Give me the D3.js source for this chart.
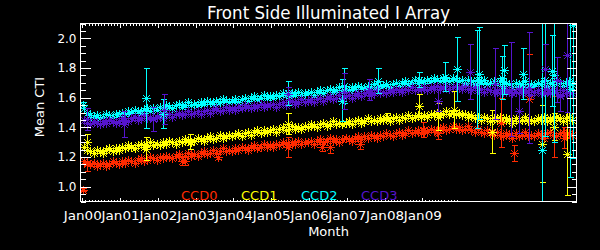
<!DOCTYPE html>
<html><head><meta charset="utf-8">
<script src="https://cdn.jsdelivr.net/npm/d3@7"></script>
<style>body{margin:0;background:#000;overflow:hidden}</style>
</head><body><svg id="c" width="600" height="250"></svg>
<script>
// ---------------- DATA ----------------
const seriesNames = ["CCD0", "CCD1", "CCD2", "CCD3"];
const firstSampleYear = 2000.05;   // monthly samples start here
const xTickLabels = ["Jan00","Jan01","Jan02","Jan03","Jan04","Jan05","Jan06","Jan07","Jan08","Jan09"];
const xTickYears = [2000,2001,2002,2003,2004,2005,2006,2007,2008,2009];
const yTickValues = [1.0, 1.2, 1.4, 1.6, 1.8, 2.0];

const ccd0 = [
 1.17,1.16,1.15,1.16,1.14,1.15,1.16,1.14,1.15,1.17,1.16,
 1.15,1.17,1.16,1.18,1.17,1.16,1.18,1.19,1.17,1.18,1.20,1.19,
 1.18,1.20,1.19,1.21,1.20,1.19,1.21,1.22,1.20,1.21,1.23,1.21,
 1.22,1.21,1.23,1.24,1.22,1.23,1.25,1.23,1.24,1.26,1.24,1.25,
 1.24,1.26,1.25,1.27,1.26,1.25,1.27,1.28,1.26,1.27,1.29,1.27,
 1.28,1.27,1.29,1.28,1.30,1.29,1.28,1.30,1.29,1.31,1.29,1.30,
 1.30,1.31,1.29,1.31,1.32,1.30,1.31,1.33,1.31,1.32,1.30,1.32,
 1.33,1.32,1.31,1.33,1.34,1.32,1.34,1.33,1.35,1.34,1.33,1.35,
 1.34,1.36,1.35,1.34,1.36,1.37,1.35,1.36,1.38,1.36,1.37,1.38,
 1.36,1.38,1.37,1.39,1.38,1.37,1.39,1.40,1.38,1.39,1.41,1.39,
 1.40,1.38,1.39,1.41,1.38,1.37,1.39,1.37,1.36,1.38,1.36,1.35,
 1.37,1.35,1.34,1.36,1.35,1.33,1.36,1.34,1.35,1.37,1.34,1.35,
 1.34,1.36,1.35,1.33,1.36,1.37,1.35,1.34,1.36,1.37,1.35,1.36,1.35
];
const ccd1 = [
 1.27,1.25,1.24,1.23,1.25,1.24,1.23,1.25,1.26,1.24,1.26,
 1.25,1.27,1.26,1.28,1.27,1.26,1.28,1.29,1.27,1.28,1.30,1.28,
 1.29,1.28,1.30,1.29,1.31,1.30,1.29,1.31,1.30,1.32,1.31,1.30,
 1.31,1.33,1.32,1.31,1.33,1.34,1.32,1.33,1.35,1.33,1.34,1.35,
 1.34,1.35,1.36,1.34,1.36,1.37,1.35,1.37,1.38,1.36,1.38,1.37,
 1.38,1.39,1.37,1.39,1.40,1.38,1.39,1.41,1.39,1.40,1.39,1.41,
 1.40,1.42,1.41,1.40,1.42,1.43,1.41,1.42,1.44,1.42,1.43,1.42,
 1.43,1.44,1.42,1.44,1.45,1.43,1.44,1.46,1.44,1.45,1.44,1.46,
 1.45,1.46,1.44,1.46,1.47,1.45,1.47,1.46,1.48,1.46,1.47,1.48,
 1.47,1.48,1.47,1.49,1.48,1.50,1.48,1.49,1.51,1.49,1.50,1.49,
 1.50,1.48,1.49,1.47,1.48,1.46,1.47,1.45,1.47,1.46,1.44,1.46,
 1.45,1.47,1.44,1.46,1.45,1.43,1.46,1.44,1.45,1.47,1.44,1.45,
 1.44,1.46,1.45,1.47,1.44,1.46,1.45,1.47,1.46,1.44,1.46,1.47,1.45
];
const ccd2 = [
 1.53,1.50,1.48,1.47,1.48,1.46,1.47,1.49,1.48,1.47,1.49,
 1.49,1.50,1.49,1.51,1.50,1.52,1.51,1.50,1.52,1.53,1.51,1.53,
 1.52,1.54,1.53,1.55,1.54,1.53,1.55,1.56,1.54,1.55,1.57,1.55,
 1.56,1.55,1.57,1.56,1.58,1.57,1.56,1.58,1.57,1.59,1.58,1.57,
 1.58,1.59,1.57,1.59,1.60,1.58,1.60,1.61,1.59,1.60,1.62,1.60,
 1.61,1.60,1.62,1.61,1.63,1.62,1.61,1.63,1.62,1.64,1.62,1.63,
 1.63,1.64,1.62,1.64,1.65,1.63,1.65,1.66,1.64,1.65,1.67,1.65,
 1.66,1.65,1.67,1.66,1.68,1.67,1.66,1.68,1.67,1.69,1.67,1.68,
 1.68,1.69,1.67,1.69,1.70,1.68,1.70,1.71,1.69,1.70,1.72,1.70,
 1.71,1.70,1.72,1.71,1.73,1.72,1.71,1.73,1.72,1.71,1.73,1.72,
 1.71,1.72,1.70,1.72,1.71,1.69,1.71,1.70,1.72,1.69,1.70,1.71,
 1.69,1.71,1.68,1.70,1.69,1.67,1.70,1.68,1.69,1.71,1.67,1.69,
 1.68,1.70,1.69,1.71,1.68,1.70,1.69,1.71,1.70,1.68,1.70,1.71,1.69
];
const ccd3 = [
 1.45,1.43,1.42,1.44,1.43,1.42,1.44,1.43,1.45,1.44,1.43,
 1.44,1.46,1.45,1.44,1.46,1.47,1.45,1.46,1.48,1.46,1.47,1.46,
 1.47,1.48,1.46,1.48,1.49,1.47,1.49,1.50,1.48,1.49,1.51,1.49,
 1.50,1.51,1.49,1.51,1.52,1.50,1.52,1.53,1.51,1.52,1.54,1.52,
 1.53,1.52,1.54,1.53,1.55,1.54,1.53,1.55,1.54,1.56,1.54,1.55,
 1.55,1.56,1.54,1.56,1.57,1.55,1.57,1.58,1.56,1.57,1.59,1.57,
 1.58,1.59,1.57,1.59,1.60,1.58,1.60,1.61,1.59,1.60,1.62,1.60,
 1.61,1.62,1.60,1.62,1.63,1.61,1.63,1.64,1.62,1.63,1.65,1.63,
 1.64,1.63,1.65,1.64,1.66,1.65,1.64,1.66,1.65,1.67,1.65,1.66,
 1.66,1.67,1.65,1.67,1.66,1.68,1.66,1.67,1.68,1.66,1.67,1.68,
 1.67,1.66,1.68,1.66,1.65,1.67,1.65,1.66,1.64,1.66,1.65,1.64,
 1.65,1.63,1.66,1.64,1.65,1.63,1.64,1.66,1.63,1.65,1.64,1.62,
 1.64,1.65,1.63,1.64,1.66,1.63,1.65,1.64,1.62,1.65,1.63,1.64,1.63
];

// averaged points with error bars: [year, mean, error]
const ccd0Err = [
 [2000.02,0.98,0.01],[2000.12,1.15,0.05],[2002.63,1.17,0.03],[2002.72,1.17,0.025],
 [2003.60,1.20,0.015],[2005.44,1.265,0.065],[2006.34,1.27,0.03],[2006.56,1.27,0.045],
 [2007.35,1.29,0.04],[2009.03,1.38,0.05],[2009.42,1.36,0.04],[2011.07,1.43,0.165],
 [2011.43,1.225,0.055],[2011.82,1.59,0.30],[2012.49,1.405,0.205],[2012.74,1.33,0.07]
];
const ccd1Err = [
 [2000.12,1.30,0.055],[2001.69,1.254,0.08],[2002.85,1.30,0.05],[2005.44,1.42,0.07],
 [2008.06,1.47,0.025],[2008.92,1.545,0.075],[2009.42,1.47,0.09],[2009.85,1.515,0.125],
 [2010.84,1.37,0.145],[2012.16,1.29,0.26],[2012.49,1.40,0.09],[2012.82,1.22,0.28]
];
const ccd2Err = [
 [2000.02,1.55,0.02],[2001.69,1.595,0.205],[2002.13,1.49,0.10],[2005.44,1.63,0.08],
 [2006.87,1.58,0.14],[2006.93,1.68,0.12],[2007.83,1.71,0.085],[2008.92,1.72,0.05],
 [2009.60,1.74,0.10],[2009.93,1.79,0.215],[2010.44,1.72,0.33],[2010.51,1.76,0.31],
 [2011.10,1.73,0.145],[2011.16,1.785,0.165],[2011.67,1.76,0.17],[2012.16,1.25,0.9],
 [2012.25,1.72,0.38],[2012.42,1.78,0.24],[2012.49,1.75,0.45],[2012.91,1.66,0.6],
 [2012.99,2.09,0.9]
];
const ccd3Err = [
 [2000.12,1.455,0.075],[2001.10,1.42,0.09],[2001.86,1.455,0.08],[2002.17,1.52,0.10],
 [2005.44,1.625,0.045],[2006.93,1.64,0.12],[2007.59,1.65,0.07],[2009.42,1.58,0.075],
 [2010.26,1.775,0.185],[2010.92,1.69,0.24],[2011.34,1.655,0.315],[2011.57,1.51,0.15],
 [2011.82,1.665,0.375],[2012.25,1.79,0.17],[2012.56,1.72,0.15],[2012.65,1.61,0.10],
 [2012.82,1.89,0.39]
];

// ---------------- STYLE ----------------
const colors = ["#ff2a00", "#ffff00", "#00ffff", "#5514cd"];
const FONT = "'DejaVu Sans', sans-serif";

const svg = d3.select("#c");
svg.append("rect").attr("width", 600).attr("height", 250).attr("fill", "#000");

const x = d3.scaleLinear().domain([1999.952, 2013.08]).range([80.5, 576.5]);
const y = d3.scaleLinear().domain([0.9, 2.1]).range([201.5, 23.5]);

svg.append("defs").append("clipPath").attr("id", "clip")
  .append("rect").attr("x", 80.5).attr("y", 23.5).attr("width", 496).attr("height", 178);

const plot = svg.append("g").attr("clip-path", "url(#clip)").attr("shape-rendering", "crispEdges");

function starPath(r) {
  const d = r * 0.72;
  return `M${-r},0H${r}M0,${-r}V${r}M${-d},${-d}L${d},${d}M${-d},${d}L${d},${-d}`;
}

const dense = [ccd0, ccd1, ccd2, ccd3];
const errs = [ccd0Err, ccd1Err, ccd2Err, ccd3Err];

dense.forEach((vals, si) => {
  plot.append("g").selectAll("path").data(vals).join("path")
    .attr("d", starPath(4.2))
    .attr("transform", (v, i) => `translate(${Math.round(x(firstSampleYear + i / 12)) + 0.5},${Math.round(y(v)) + 0.5})`)
    .attr("stroke", colors[si]).attr("stroke-width", 1.3).attr("fill", "none");
});

errs.forEach((pts, si) => {
  const g = plot.append("g").attr("stroke", colors[si]).attr("stroke-width", 1).attr("fill", "none");
  pts.forEach(p => {
    const px = Math.round(x(p[0])) + 0.5;
    const y1 = y(p[1] - p[2]), y2 = y(p[1] + p[2]);
    g.append("line").attr("x1", px).attr("x2", px).attr("y1", y1).attr("y2", y2);
    g.append("line").attr("x1", px - 3).attr("x2", px + 3).attr("y1", y1).attr("y2", y1);
    g.append("line").attr("x1", px - 3).attr("x2", px + 3).attr("y1", y2).attr("y2", y2);
    g.append("path").attr("d", starPath(4.5))
      .attr("transform", `translate(${px},${Math.round(y(p[1])) + 0.5})`);
  });
});

// ---------------- AXES ----------------
const minorX = d3.range(0, 120).map(m => 2000 + m / 12);
const minorY = d3.range(18, 43).map(k => k * 0.05);

function styleAxis(g) {
  g.select(".domain").remove();
  g.selectAll("line").attr("stroke", "#fff");
  g.attr("shape-rendering", "crispEdges");
  g.selectAll("text").attr("fill", "#fff").attr("font-family", FONT).attr("font-size", 12);
}

// bottom
svg.append("g").attr("transform", "translate(0,201.5)")
  .call(d3.axisBottom(x).tickValues(minorX).tickSize(-2).tickFormat("")).call(styleAxis);
svg.append("g").attr("transform", "translate(0,201.5)")
  .call(d3.axisBottom(x).tickValues(xTickYears).tickSize(-4).tickPadding(10)
    .tickFormat((d, i) => xTickLabels[i])).call(styleAxis)
  .call(g => g.selectAll("text").attr("font-size", 12.5).attr("textLength", 38).attr("lengthAdjust", "spacingAndGlyphs"));
// top
svg.append("g").attr("transform", "translate(0,23.5)")
  .call(d3.axisTop(x).tickValues(minorX).tickSize(-2).tickFormat("")).call(styleAxis);
svg.append("g").attr("transform", "translate(0,23.5)")
  .call(d3.axisTop(x).tickValues(xTickYears).tickSize(-4).tickFormat("")).call(styleAxis);
// left
svg.append("g").attr("transform", "translate(80.5,0)")
  .call(d3.axisLeft(y).tickValues(minorY).tickSize(-5).tickFormat("")).call(styleAxis);
svg.append("g").attr("transform", "translate(80.5,0)")
  .call(d3.axisLeft(y).tickValues(yTickValues).tickSize(-10).tickPadding(4)
    .tickFormat(d3.format(".1f"))).call(styleAxis);
// right
svg.append("g").attr("transform", "translate(576.5,0)")
  .call(d3.axisRight(y).tickValues(minorY).tickSize(-5).tickFormat("")).call(styleAxis);
svg.append("g").attr("transform", "translate(576.5,0)")
  .call(d3.axisRight(y).tickValues(yTickValues).tickSize(-10).tickFormat("")).call(styleAxis);

// frame
svg.append("rect").attr("x", 80.5).attr("y", 23.5).attr("width", 496).attr("height", 178)
  .attr("fill", "none").attr("stroke", "#fff").attr("shape-rendering", "crispEdges");

// ---------------- TEXT ----------------
svg.append("text").attr("x", 328.5).attr("y", 19).attr("text-anchor", "middle")
  .attr("fill", "#fff").attr("font-family", FONT).attr("font-size", 17)
  .attr("textLength", 243).attr("lengthAdjust", "spacingAndGlyphs")
  .text("Front Side Illuminated I Array");

svg.append("text").attr("x", 328.5).attr("y", 236).attr("text-anchor", "middle")
  .attr("fill", "#fff").attr("font-family", FONT).attr("font-size", 13).text("Month");

svg.append("text").attr("transform", "translate(44,107) rotate(-90)").attr("text-anchor", "middle")
  .attr("fill", "#fff").attr("font-family", FONT).attr("font-size", 13).text("Mean CTI");

seriesNames.forEach((n, i) => {
  svg.append("text").attr("x", 181 + i * 60).attr("y", 200)
    .attr("fill", colors[i]).attr("font-family", FONT).attr("font-size", 13).text(n);
});
</script>
</body></html>
